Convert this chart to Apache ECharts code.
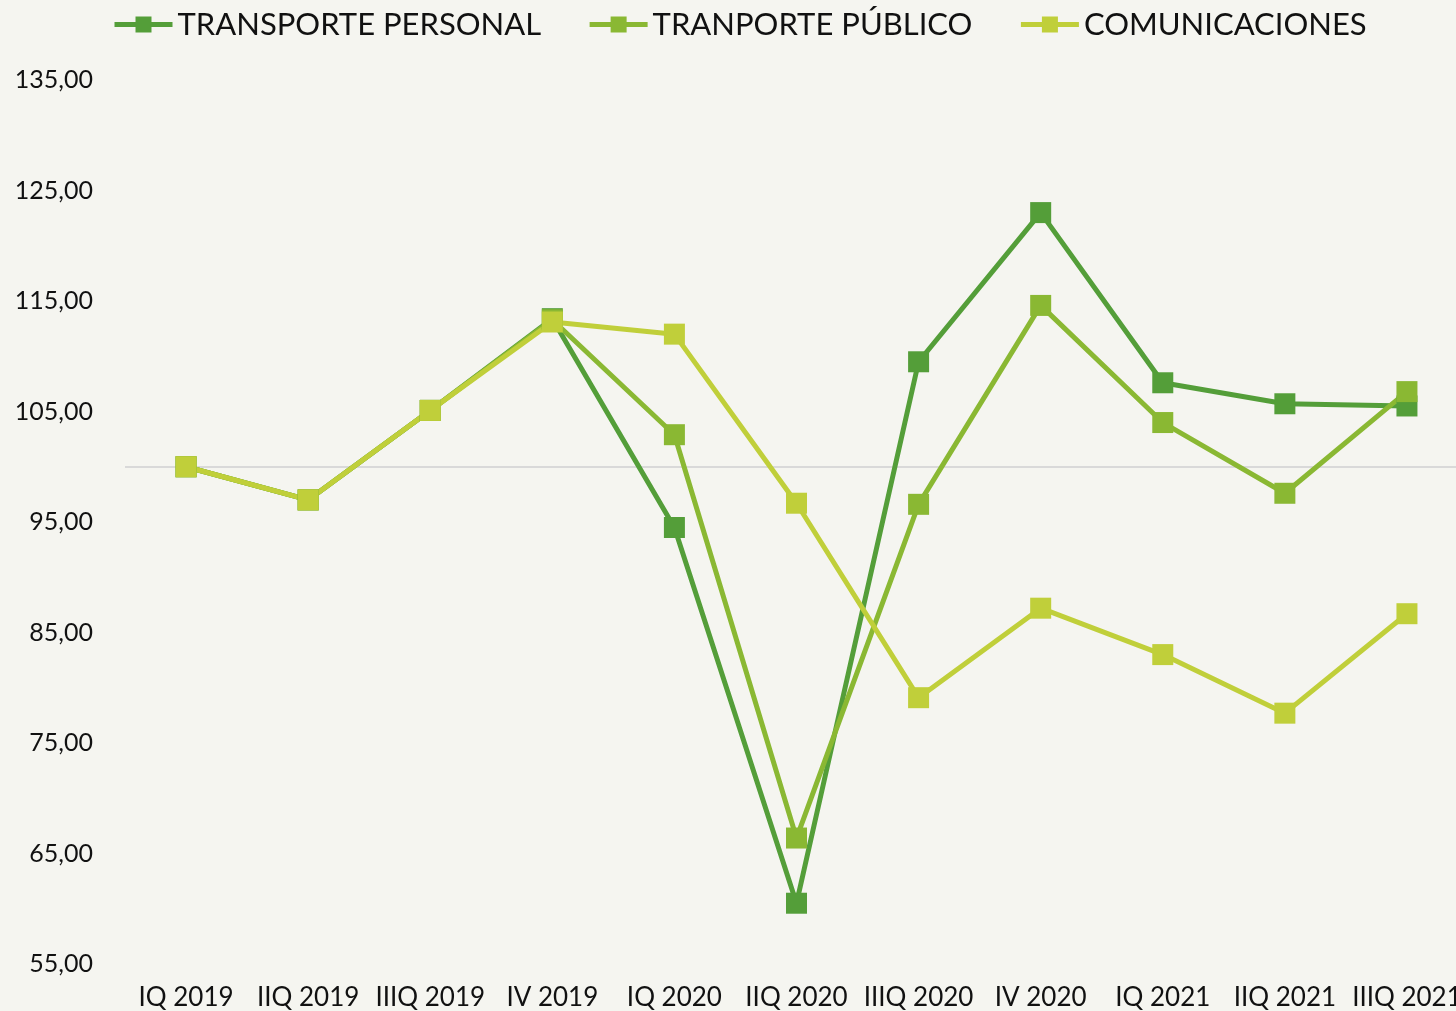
<!DOCTYPE html>
<html>
<head>
<meta charset="utf-8">
<script src="https://cdn.jsdelivr.net/npm/echarts@6/dist/echarts.min.js"></script>
<style>
  html, body { margin: 0; padding: 0; background: #f5f5f0; overflow: hidden; }
  #chart { width: 1468px; height: 1011px; }
</style>
</head>
<body>
<div id="chart"></div>
<script>
const categories = ['IQ 2019', 'IIQ 2019', 'IIIQ 2019', 'IV 2019', 'IQ 2020', 'IIQ 2020', 'IIIQ 2020', 'IV 2020', 'IQ 2021', 'IIQ 2021', 'IIIQ 2021'];
const transportePersonal = [100, 97.0, 105.1, 113.4, 94.5, 60.5, 109.5, 123.0, 107.6, 105.7, 105.5];
const transportePublico = [100, 97.0, 105.1, 113.3, 102.9, 66.4, 96.6, 114.6, 104.0, 97.6, 106.8];
const comunicaciones = [100, 97.0, 105.1, 113.1, 112.0, 96.7, 79.1, 87.2, 83.0, 77.7, 86.7];
const seriesNames = ['TRANSPORTE PERSONAL', 'TRANPORTE PÚBLICO', 'COMUNICACIONES'];
const colors = ['#549e39', '#8ab833', '#c0cf3a'];

const font = 'Lato, "DejaVu Sans", sans-serif';

const makeSeries = (name, data, color, withBase) => {
  const s = {
    name: name,
    type: 'line',
    data: data,
    symbol: 'rect',
    symbolSize: 21,
    lineStyle: { width: 5, color: color },
    itemStyle: { color: color },
    emphasis: { disabled: true },
    animation: false,
  };
  if (withBase) {
    s.markLine = {
      silent: true,
      symbol: 'none',
      label: { show: false },
      lineStyle: { color: '#d9d9d9', width: 2, type: 'solid' },
      data: [{ yAxis: 100 }],
      z: 1,
    };
  }
  return s;
};

const chart = echarts.init(document.getElementById('chart'));
chart.setOption({
  backgroundColor: '#f5f5f0',
  textStyle: { fontFamily: font },
  legend: {
    top: 4,
    left: 107,
    itemWidth: 58,
    itemHeight: 20,
    itemGap: 46,
    lineStyle: { width: 5 },
    textStyle: { fontSize: 31, color: '#111', fontFamily: font },
    data: seriesNames,
  },
  grid: { left: 125, right: 0, top: 80, bottom: 47, containLabel: false },
  xAxis: {
    type: 'category',
    data: categories,
    boundaryGap: true,
    axisLine: { show: false },
    axisTick: { show: false },
    axisLabel: { fontSize: 26, color: '#111', margin: 21, interval: 0, fontFamily: font },
  },
  yAxis: {
    type: 'value',
    min: 55,
    max: 135,
    interval: 10,
    splitLine: { show: false },
    axisLine: { show: false },
    axisTick: { show: false },
    axisLabel: {
      fontSize: 25,
      color: '#111',
      margin: 32,
      fontFamily: font,
      formatter: (v) => v.toFixed(2).replace('.', ','),
    },
  },
  series: [
    makeSeries(seriesNames[0], transportePersonal, colors[0], true),
    makeSeries(seriesNames[1], transportePublico, colors[1], false),
    makeSeries(seriesNames[2], comunicaciones, colors[2], false),
  ],
});
</script>
</body>
</html>
